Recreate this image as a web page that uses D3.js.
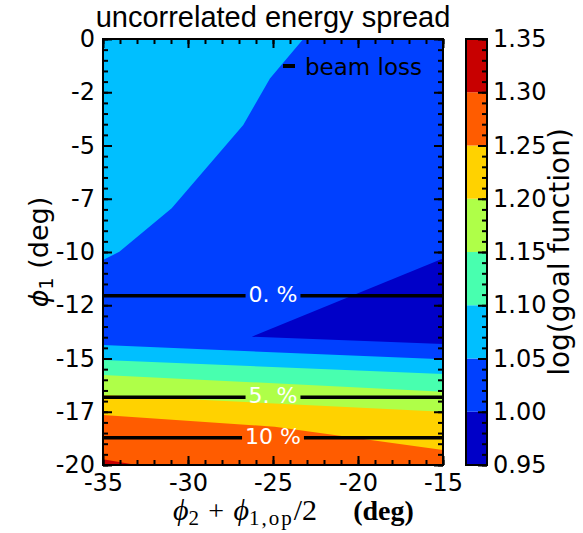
<!DOCTYPE html>
<html><head><meta charset="utf-8">
<script src="https://cdn.jsdelivr.net/npm/d3@7"></script>
<style>body{margin:0;background:#fff} svg{display:block}</style>
</head><body><svg id="chart" width="583" height="533"></svg>
<script>
// ---------- data ----------
const titleText = "uncorrelated energy spread";
const xTickValues = [-35, -30, -25, -20, -15];
const xTickLabels = ["-35", "-30", "-25", "-20", "-15"];
const yTickValues = [0, -2.5, -5, -7.5, -10, -12.5, -15, -17.5, -20];
const yTickLabels = ["0", "-2", "-5", "-7", "-10", "-12", "-15", "-17", "-20"];
const levels = [0.95, 1.00, 1.05, 1.10, 1.15, 1.20, 1.25, 1.30, 1.35];
const levelLabels = ["0.95", "1.00", "1.05", "1.10", "1.15", "1.20", "1.25", "1.30", "1.35"];
// contour boundaries (x, y in data units)
const contour105Upper = [[-35, -10.38], [-34.04, -9.99], [-30.96, -7.95], [-26.75, -4.04], [-25.18, -1.85], [-23.22, 0]];
const contour100Wedge = [[-15, -10.30], [-26.25, -13.98], [-15, -14.32]];
const contour105Lower = [[-35, -14.37], [-15, -15.04]];
const contour110 = [[-35, -15.07], [-15, -15.73]];
const contour115 = [[-35, -15.77], [-15, -16.56]];
const contour120 = [[-35, -16.71], [-15, -17.50]];
const contour125 = [[-35, -17.65], [-24.9, -18.20], [-15, -19.30]];
const contour130 = [[-35, -19.73], [-33.02, -20]];
// beam loss contours
const beamLossY = [-12.05, -16.82, -18.72];
const beamLossLabels = ["0. %", "5. %", "10 %"];
const legendLabel = "beam loss";

// ---------- styles ----------
const bandColors = ["#0000c8", "#0040ff", "#00bfff", "#48ffaf", "#afff48", "#ffd200", "#ff5c00", "#c80000"];
const L = 103, R = 443, T = 39, B = 465;
const CB = {x0: 466, x1: 487};
const sans = "DejaVu Sans, sans-serif";

const svg = d3.select("#chart");
const x = d3.scaleLinear().domain([-35, -15]).range([L, R]);
const y = d3.scaleLinear().domain([-20, 0]).range([B, T]);
const c = d3.scaleLinear().domain([0.95, 1.35]).range([B, T]);
const color = d3.scaleOrdinal().domain(d3.range(bandColors.length)).range(bandColors);

svg.append("defs").append("clipPath").attr("id", "plotclip")
  .append("rect").attr("x", L).attr("y", T).attr("width", R - L).attr("height", B - T);

const gPlot = svg.append("g").attr("clip-path", "url(#plotclip)");
const line = d3.line().x(d => x(d[0])).y(d => y(d[1]));
const poly = pts => line(pts) + "Z";

// background band 1.00-1.05
gPlot.append("path").attr("d", poly([[-35, 0], [-15, 0], [-15, -20], [-35, -20]])).attr("fill", color(1));
// band 0.95-1.00 wedge
gPlot.append("path").attr("d", poly(contour100Wedge)).attr("fill", color(0));
// upper-left band >= 1.05
gPlot.append("path").attr("d", poly([[-35, 0], ...contour105Upper])).attr("fill", color(2));
// lower bands (superlevel sets)
const lowerBounds = [contour105Lower, contour110, contour115, contour120, contour125];
lowerBounds.forEach((b, i) => {
  gPlot.append("path").attr("d", poly([...b, [-15, -20], [-35, -20]]))
    .attr("fill", color(i + 2));
});
gPlot.append("path").attr("d", poly([...contour130, [-35, -20]])).attr("fill", color(7));

// beam loss lines with labels
beamLossY.forEach((v, i) => {
  const t = gPlot.append("text").attr("x", x(-25)).attr("y", y(v) + 6)
    .attr("text-anchor", "middle").attr("fill", "#fff")
    .attr("font-family", sans).attr("font-size", 22).text(beamLossLabels[i]);
  const w = t.node().getComputedTextLength();
  const gap = w / 2 + 3;
  gPlot.append("line").attr("x1", L).attr("x2", x(-25) - gap).attr("y1", y(v)).attr("y2", y(v))
    .attr("stroke", "#000").attr("stroke-width", 3.5);
  gPlot.append("line").attr("x1", x(-25) + gap).attr("x2", R).attr("y1", y(v)).attr("y2", y(v))
    .attr("stroke", "#000").attr("stroke-width", 3.5);
});

// legend
gPlot.append("line").attr("x1", 283).attr("x2", 295).attr("y1", 66).attr("y2", 66)
  .attr("stroke", "#000").attr("stroke-width", 4);
gPlot.append("text").attr("x", 305).attr("y", 75).attr("font-family", sans).attr("font-size", 23)
  .attr("fill", "#000").text(legendLabel);

// ---------- axes ----------
function styleAxis(g) {
  g.select(".domain").remove();
  g.selectAll(".tick line").attr("stroke", "#000").attr("stroke-width", 2);
  g.selectAll("text").attr("font-family", sans).attr("font-size", 24).attr("fill", "#000");
}
const xMinor = d3.range(-35, -14.99, 1);
const yMinor = d3.range(-20, 0.01, 0.5);
// bottom
svg.append("g").attr("transform", `translate(0,${B})`)
  .call(d3.axisBottom(x).tickValues(xMinor).tickSize(-5).tickFormat("")).call(styleAxis);
svg.append("g").attr("transform", `translate(0,${B})`)
  .call(d3.axisBottom(x).tickValues(xTickValues).tickSize(-9).tickPadding(9)
    .tickFormat((d, i) => xTickLabels[i])).call(styleAxis);
// top
svg.append("g").attr("transform", `translate(0,${T})`)
  .call(d3.axisTop(x).tickValues(xMinor).tickSize(-5).tickFormat("")).call(styleAxis);
svg.append("g").attr("transform", `translate(0,${T})`)
  .call(d3.axisTop(x).tickValues(xTickValues).tickSize(-9).tickFormat("")).call(styleAxis);
// left
svg.append("g").attr("transform", `translate(${L},0)`)
  .call(d3.axisLeft(y).tickValues(yMinor).tickSize(-5).tickFormat("")).call(styleAxis);
svg.append("g").attr("transform", `translate(${L},0)`)
  .call(d3.axisLeft(y).tickValues(yTickValues).tickSize(-9).tickPadding(8)
    .tickFormat((d, i) => yTickLabels[i])).call(styleAxis);
// right
svg.append("g").attr("transform", `translate(${R},0)`)
  .call(d3.axisRight(y).tickValues(yMinor).tickSize(-5).tickFormat("")).call(styleAxis);
svg.append("g").attr("transform", `translate(${R},0)`)
  .call(d3.axisRight(y).tickValues(yTickValues).tickSize(-9).tickFormat("")).call(styleAxis);
// frame
svg.append("rect").attr("x", L).attr("y", T).attr("width", R - L).attr("height", B - T)
  .attr("fill", "none").attr("stroke", "#000").attr("stroke-width", 2);

// title
svg.append("text").attr("x", (L + R) / 2).attr("y", 27).attr("text-anchor", "middle")
  .attr("font-family", "Liberation Sans, Arial, sans-serif").attr("font-size", 29).attr("fill", "#000")
  .text(titleText);

// x label
const xl = svg.append("text").attr("x", 173).attr("y", 520).attr("text-anchor", "start")
  .attr("font-family", "Liberation Serif, serif").attr("font-size", 28).attr("fill", "#000");
xl.append("tspan").attr("font-style", "italic").attr("font-size", 30).text("\u03D5");
xl.append("tspan").attr("font-size", 21).attr("dy", 5).text("2");
xl.append("tspan").attr("dy", -5).text("\u2004+\u2004");
xl.append("tspan").attr("font-style", "italic").attr("font-size", 30).text("\u03D5");
xl.append("tspan").attr("font-size", 21).attr("dy", 5).attr("letter-spacing", 2).text("1,op");
xl.append("tspan").attr("dy", -5).attr("font-size", 30).text("/2\u2002\u2002\u2009");
xl.append("tspan").attr("font-weight", "bold").text("(deg)");

// y label
const yl = svg.append("text").attr("transform", `translate(48,${(T + B) / 2}) rotate(-90)`)
  .attr("text-anchor", "middle").attr("font-family", sans).attr("font-size", 27).attr("fill", "#000");
yl.append("tspan").attr("font-style", "italic").text("\u03D5");
yl.append("tspan").attr("font-size", 19).attr("dy", 5).text("1");
yl.append("tspan").attr("dy", -5).text(" (deg)");

// ---------- colorbar ----------
const bands = d3.range(levels.length - 1);
svg.append("g").selectAll("rect").data(bands).join("rect")
  .attr("x", CB.x0).attr("width", CB.x1 - CB.x0)
  .attr("y", i => c(levels[i + 1])).attr("height", i => c(levels[i]) - c(levels[i + 1]))
  .attr("fill", i => color(i));
const cMinor = d3.range(0.95, 1.3501, 0.01);
svg.append("g").attr("transform", `translate(${CB.x1},0)`)
  .call(d3.axisRight(c).tickValues(cMinor).tickSize(-5).tickFormat("")).call(styleAxis);
svg.append("g").attr("transform", `translate(${CB.x1},0)`)
  .call(d3.axisRight(c).tickValues(levels).tickSize(-9).tickPadding(6)
    .tickFormat((d, i) => levelLabels[i])).call(styleAxis);
svg.append("rect").attr("x", CB.x0).attr("y", T).attr("width", CB.x1 - CB.x0).attr("height", B - T)
  .attr("fill", "none").attr("stroke", "#000").attr("stroke-width", 2);
svg.append("text").attr("transform", `translate(569,${(T + B) / 2}) rotate(-90)`)
  .attr("text-anchor", "middle").attr("font-family", sans).attr("font-size", 28).attr("fill", "#000")
  .text("log(goal function)");
</script></body></html>
